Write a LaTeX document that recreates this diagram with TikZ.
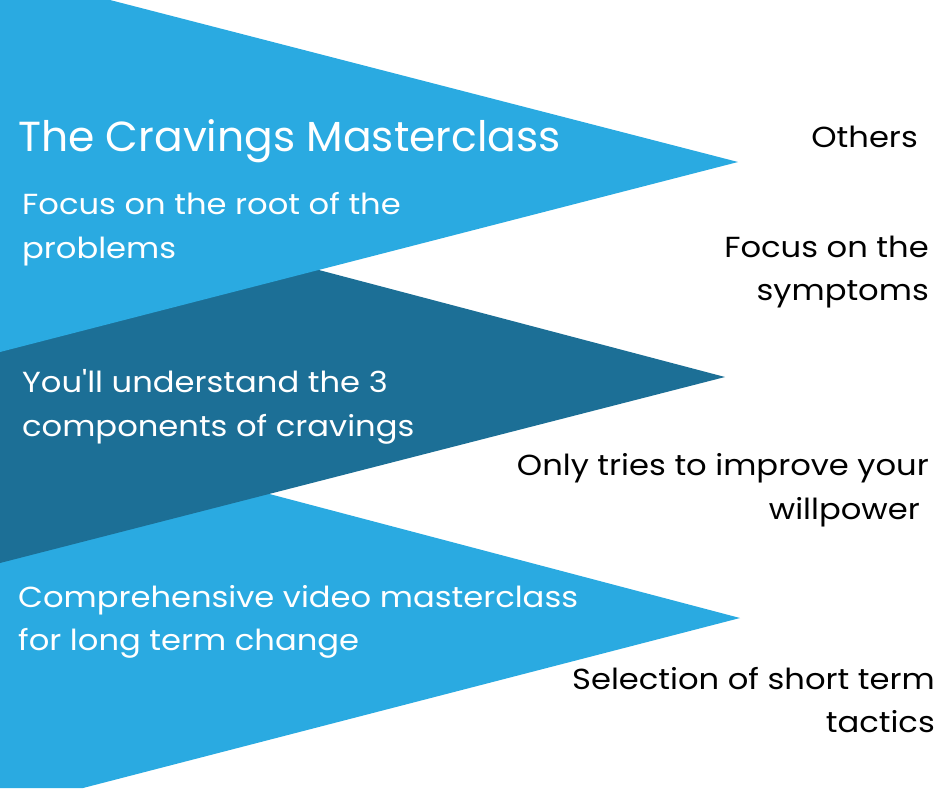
\documentclass[tikz,border=0pt]{standalone}
\usepackage{fontspec}
\setmainfont{Poppins}[Ligatures=TeXOff]
\newfontfamily\bodyfont{Poppins}[FakeStretch=1.11,Ligatures=TeXOff]
\newfontfamily\titlefont{Poppins}[FakeStretch=1.01,Ligatures=TeXOff]
\definecolor{lightblue}{HTML}{2AAAE1}
\definecolor{darkblue}{HTML}{1C6F96}
\begin{document}
\begin{tikzpicture}[x=1pt,y=-1pt,
  lefttxt/.style={anchor=base west,inner sep=0pt,text=white,font=\bodyfont\fontsize{29}{29}\selectfont},
  righttxt/.style={anchor=base east,inner sep=0pt,text=black,font=\bodyfont\fontsize{29}{29}\selectfont},
  titletxt/.style={anchor=base west,inner sep=0pt,text=white,font=\titlefont\fontsize{42}{42}\selectfont}]
\useasboundingbox (0,0) rectangle (940,788);
\fill[white] (0,0) rectangle (940,788);
% triangles (bottom first)
\fill[lightblue] (0,423) -- (740,618) -- (83,788) -- (0,788) -- cycle;
\fill[darkblue] (0,186) -- (725,377) -- (0,563) -- cycle;
\fill[lightblue] (110,0) -- (738,162) -- (0,352) -- (0,0) -- cycle;
% left texts
\node[titletxt] (t1) at (18,151) {The Cravings Masterclass};
\node[lefttxt] (a1) at (22,214) {Focus on the root of the};
\node[lefttxt] (a2) at (22,258) {problems};
\node[lefttxt] (b1) at (22,392) {You'll understand the 3};
\node[lefttxt] (b2) at (22,436) {components of cravings};
\node[lefttxt] (c1) at (18,607) {Comprehensive video masterclass};
\node[lefttxt] (c2) at (18,650) {for long term change};
% right texts
\node[righttxt] (o1) at (918,147) {Others};
\node[righttxt] (r1) at (929,257) {Focus on the};
\node[righttxt] (r2) at (929,300) {symptoms};
\node[righttxt] (s1) at (929,475) {Only tries to improve your};
\node[righttxt] (s2) at (920,519) {willpower};
\node[righttxt] (u1) at (935,689) {Selection of short term};
\node[righttxt] (u2) at (935,732) {tactics};
\end{tikzpicture}
\end{document}
